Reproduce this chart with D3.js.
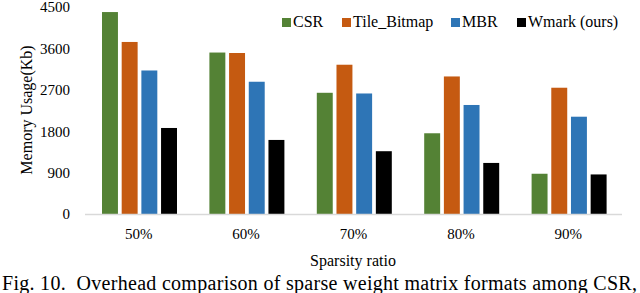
<!DOCTYPE html>
<html lang="en">
	<head>
		<meta charset="utf-8">
		<title>memory usage bars</title>
		<script type="text/javascript" src="https://cdn.jsdelivr.net/npm/d3@7"></script>
		<style type="text/css">
			body{
				margin: 0;
				background: #fff;
			}
			svg text{
				font-family: "Liberation Serif", "Times New Roman", serif !important;
			}
		</style>
	</head>
	<body>
	<script type="text/javascript">

			//Width and height
			var w = 640;
			var h = 293;
			var serif = "'Liberation Serif', 'Times New Roman', serif";

			//Data
			var ratios = ["50%", "60%", "70%", "80%", "90%"];
			var formats = ["CSR", "Tile_Bitmap", "MBR", "Wmark (ours)"];
			var colors = ["#548235", "#c55a11", "#2e75b6", "#000000"];
			var csr = [4390, 3510, 2635, 1755, 875];
			var tileBitmap = [3740, 3500, 3245, 2990, 2745];
			var mbr = [3120, 2875, 2620, 2370, 2115];
			var wmark = [1870, 1610, 1365, 1110, 860];
			var yTicks = [0, 900, 1800, 2700, 3600, 4500];

			var series = [csr, tileBitmap, mbr, wmark];

			//Scales
			var x0 = d3.scaleBand()
						.domain(ratios)
						.range([85, 622]);

			var x1 = d3.scaleBand()
						.domain(formats)
						.range([17, 92])
						.paddingInner(0.19);

			var yScale = d3.scaleLinear()
						.domain([0, 4500])
						.range([214, 7]);

			//Create SVG element
			var svg = d3.select("body")
						.append("svg")
						.attr("width", w)
						.attr("height", h);

			//Bars
			var groups = svg.selectAll("g.grp")
				.data(ratios)
				.enter()
				.append("g")
				.attr("class", "grp")
				.attr("transform", function(d) { return "translate(" + x0(d) + ",0)"; });

			groups.selectAll("rect")
				.data(function(d, i) {
					return formats.map(function(f, j) { return {f: f, v: series[j][i], c: colors[j]}; });
				})
				.enter()
				.append("rect")
				.attr("x", function(d) { return x1(d.f); })
				.attr("y", function(d) { return yScale(d.v); })
				.attr("width", x1.bandwidth())
				.attr("height", function(d) { return yScale(0) - yScale(d.v); })
				.style("fill", function(d) { return d.c; });

			//Baseline
			svg.append("line")
				.attr("x1", 85)
				.attr("x2", 622)
				.attr("y1", yScale(0) + 0.5)
				.attr("y2", yScale(0) + 0.5)
				.style("stroke", "#d9d9d9")
				.style("stroke-width", 1.5);

			//Y axis (labels only)
			var yAxis = d3.axisLeft(yScale)
				.tickValues(yTicks)
				.tickFormat(d3.format("d"))
				.tickSize(0)
				.tickPadding(0);

			svg.append("g")
				.attr("transform", "translate(70,0)")
				.call(yAxis)
				.attr("font-family", serif)
				.call(function(g) { g.select(".domain").remove(); })
				.selectAll("text")
				.style("font-family", serif)
				.style("font-size", "15px")
				.style("fill", "#000");

			//X axis (labels only)
			var xAxis = d3.axisBottom(x0)
				.tickSize(0)
				.tickPadding(0);

			svg.append("g")
				.attr("transform", "translate(0,228)")
				.call(xAxis)
				.attr("font-family", serif)
				.call(function(g) { g.select(".domain").remove(); })
				.selectAll("text")
				.style("font-family", serif)
				.style("font-size", "15px")
				.style("fill", "#000");

			//Axis titles
			svg.append("text")
				.text("Memory Usage(Kb)")
				.attr("transform", "translate(32,110) rotate(-90)")
				.attr("text-anchor", "middle")
				.style("font-family", serif)
				.style("font-size", "16px");

			svg.append("text")
				.text("Sparsity ratio")
				.attr("x", 353)
				.attr("y", 266)
				.attr("text-anchor", "middle")
				.style("font-family", serif)
				.style("font-size", "16px");

			//Legend
			var legendX = [282, 342, 451, 517];
			var legend = svg.selectAll("g.leg")
				.data(formats)
				.enter()
				.append("g")
				.attr("class", "leg")
				.attr("transform", function(d, i) { return "translate(" + legendX[i] + ",18)"; });

			legend.append("rect")
				.attr("width", 9)
				.attr("height", 9)
				.style("fill", function(d, i) { return colors[i]; });

			legend.append("text")
				.text(function(d) { return d; })
				.attr("x", 11)
				.attr("y", 9)
				.style("font-family", serif)
				.style("font-size", "16px");

			//Caption
			svg.append("text")
				.text("Fig. 10.  Overhead comparison of sparse weight matrix formats among CSR,")
				.attr("x", 2)
				.attr("y", 290)
				.attr("textLength", 635)
				.attr("lengthAdjust", "spacing")
				.style("font-family", serif)
				.style("font-size", "20px")
				.style("white-space", "pre");

		</script>
	</body>
</html>
